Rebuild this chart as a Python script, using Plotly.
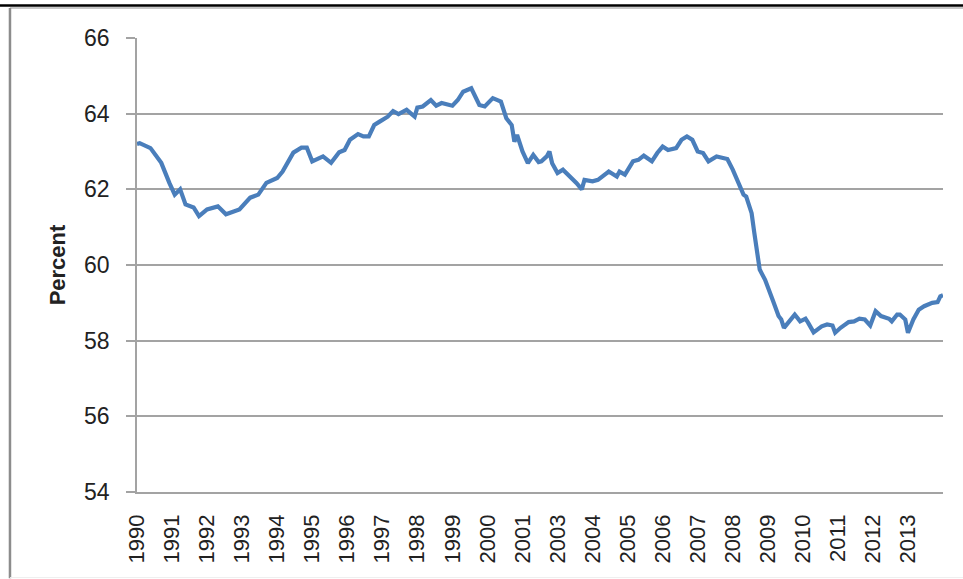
import plotly.graph_objects as go

# month number counted from Jan 1990 (Excel category index) and the ratio in percent
month_index = [0, 1, 5, 9, 12, 14, 16, 18, 21, 23, 26, 30, 33, 38, 42, 45, 48, 52, 54, 58,
               61, 63, 65, 69, 72, 75, 77, 79, 82, 84, 86, 88, 90, 93, 95, 97, 100, 103, 104, 106,
               109, 111, 113, 116, 117, 119, 121, 124, 125, 127, 129, 132, 135, 137, 139, 140, 141, 143, 145, 147,
               149, 150, 152, 153, 154, 156, 158, 160, 163, 165, 166, 169, 171, 175, 178, 179, 181, 184, 186, 188,
               191, 193, 195, 197, 200, 202, 204, 206, 208, 210, 212, 215, 217, 219, 221, 223, 225, 226, 228, 229,
               230, 231, 233, 235, 236, 238, 239, 240, 242, 244, 246, 248, 249, 251, 254, 256, 258, 259, 261, 264,
               266, 268, 270, 272, 274, 276, 279, 280, 282, 283, 285, 286, 288, 290, 292, 295, 297, 298, 299]
percent = [63.20, 63.22, 63.09, 62.70, 62.17, 61.86, 62.00, 61.60, 61.52, 61.29, 61.47, 61.55, 61.34, 61.47, 61.78, 61.86, 62.17, 62.30, 62.47, 62.97,
           63.10, 63.10, 62.74, 62.87, 62.70, 62.98, 63.04, 63.31, 63.46, 63.40, 63.40, 63.70, 63.79, 63.92, 64.07, 63.99, 64.10, 63.92, 64.16, 64.19,
           64.36, 64.21, 64.28, 64.21, 64.21, 64.36, 64.58, 64.67, 64.54, 64.23, 64.19, 64.41, 64.32, 63.88, 63.70, 63.26, 63.44, 63.00, 62.69, 62.91,
           62.72, 62.74, 62.87, 63.00, 62.69, 62.43, 62.52, 62.39, 62.17, 62.00, 62.25, 62.21, 62.25, 62.47, 62.34, 62.47, 62.39, 62.74, 62.78, 62.89,
           62.74, 62.96, 63.13, 63.04, 63.09, 63.31, 63.40, 63.31, 63.00, 62.96, 62.74, 62.87, 62.83, 62.80, 62.52, 62.17, 61.86, 61.81, 61.37, 60.85,
           60.32, 59.88, 59.61, 59.26, 59.04, 58.65, 58.56, 58.34, 58.51, 58.69, 58.51, 58.58, 58.47, 58.22, 58.38, 58.43, 58.40, 58.21, 58.34, 58.49,
           58.51, 58.58, 58.56, 58.40, 58.78, 58.65, 58.58, 58.51, 58.69, 58.69, 58.56, 58.21, 58.56, 58.82, 58.91, 59.00, 59.02, 59.17, 59.20]

# excel showed one label every 13 categories, so 2002 never appears
tick_labels = ['1990', '1991', '1992', '1993', '1994', '1995', '1996', '1997', '1998', '1999', '2000', '2001',
               '2003', '2004', '2005', '2006', '2007', '2008', '2009', '2010', '2011', '2012', '2013']
label_step = 13
n_categories = 300

grid_col = '#A3A3A3'
font_name = 'Liberation Sans'

fig = go.Figure(go.Scatter(x=month_index, y=percent, mode='lines',
                           line=dict(color='#4A7EBB', width=4.2), hoverinfo='y'))

fig.update_layout(
    width=963, height=579,
    margin=dict(l=137, r=20, t=38, b=87),
    paper_bgcolor='white', plot_bgcolor='white',
    showlegend=False,
    font=dict(family=font_name, size=23, color='#222222'),
    xaxis=dict(range=[0, n_categories - 1],
               tickmode='array',
               tickvals=[i * label_step for i in range(len(tick_labels))],
               ticktext=tick_labels,
               tickangle=-90, ticks='', showgrid=False, zeroline=False,
               showline=True, linecolor=grid_col, linewidth=1.6,
               ticklabelstandoff=12,
               tickfont=dict(family=font_name, size=22)),
    yaxis=dict(range=[54, 66], dtick=2, tick0=54,
               ticks='outside', ticklen=9, tickcolor=grid_col, tickwidth=1.6,
               showgrid=True, gridcolor=grid_col, gridwidth=1.6, zeroline=False,
               showline=True, linecolor=grid_col, linewidth=1.6,
               ticklabelstandoff=12,
               tickfont=dict(family=font_name, size=23),
               title=dict(text='<b>Percent</b>', standoff=12,
                          font=dict(family=font_name, size=22))),
)

# chart frame from the spreadsheet screenshot and the dark rule above it
fig.add_shape(type='line', xref='paper', yref='paper', x0=-0.2, x1=1.05, y0=1.0716, y1=1.0716,
              line=dict(color='black', width=2.5))
fig.add_shape(type='line', xref='paper', yref='paper', x0=-0.1576, x1=1.05, y0=1.0661, y1=1.0661,
              line=dict(color='#C8C8C8', width=2))
fig.add_shape(type='line', xref='paper', yref='paper', x0=-0.1576, x1=-0.1576, y0=-0.19, y1=1.0661,
              line=dict(color='#8C8C8C', width=2.5))
fig.add_shape(type='line', xref='paper', yref='paper', x0=-0.1576, x1=1.05, y0=-0.1885, y1=-0.1885,
              line=dict(color='#EEEEEE', width=1))

# drop the browser's default body margin so the figure sits at the window corner
fig.write_html('out.html', config={'displayModeBar': False},
               post_script="document.body.style.margin='0';")
